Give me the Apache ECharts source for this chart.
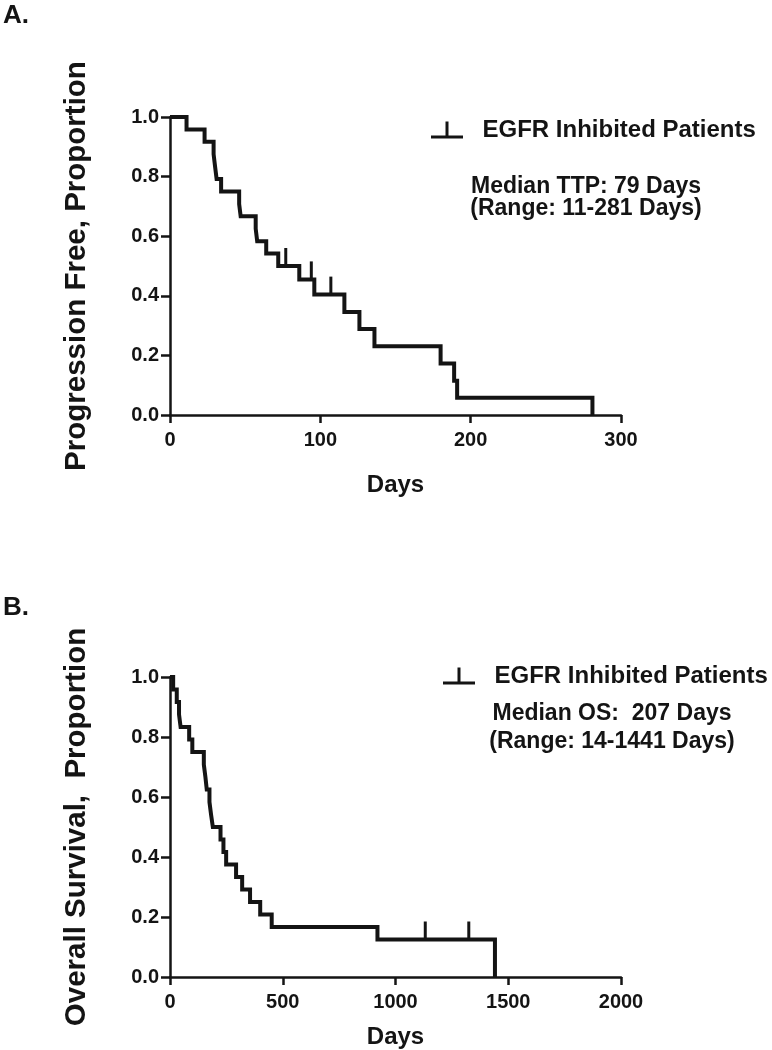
<!DOCTYPE html>
<html>
<head>
<meta charset="utf-8">
<script src="https://cdn.jsdelivr.net/npm/echarts@6/dist/echarts.min.js"></script>
<style>
  html, body { margin: 0; padding: 0; background: #ffffff; }
  #chart { width: 772px; height: 1050px; }
</style>
</head>
<body>
<div id="chart"></div>
<script>
// ---- Panel A: time to progression (Kaplan-Meier step points) ----
const ttpDays = [0, 11, 23, 29, 30, 31, 34, 46, 47, 57, 58, 64, 72, 86, 96, 116, 126, 136, 180, 189, 191, 281];
const ttpProp = [1, 0.958, 0.917, 0.875, 0.833, 0.792, 0.75, 0.708, 0.667, 0.625, 0.583, 0.542, 0.5, 0.455, 0.404, 0.346, 0.289, 0.231, 0.173, 0.115, 0.058, 0];
const ttpCensorDays = [77, 94, 107];
const ttpCensorProp = [0.5, 0.455, 0.404];

// ---- Panel B: overall survival ----
const osDays = [0, 14, 30, 40, 47, 85, 99, 150, 157, 163, 175, 182, 190, 224, 237, 249, 293, 320, 355, 400, 451, 920, 1441];
const osProp = [1, 0.958, 0.917, 0.875, 0.833, 0.792, 0.75, 0.708, 0.667, 0.625, 0.583, 0.542, 0.5, 0.458, 0.417, 0.375, 0.333, 0.292, 0.25, 0.208, 0.167, 0.125, 0];
const osCensorDays = [1132, 1325];
const osCensorProp = [0.125, 0.125];

// ---- Axis ticks / labels ----
const yTicks = { min: 0, max: 1, interval: 0.2 };
const xTicksA = { min: 0, max: 300, interval: 100 };
const xTicksB = { min: 0, max: 2000, interval: 500 };

const seriesName = 'EGFR Inhibited Patients';
const yTitleA = 'Progression Free, Proportion';
const yTitleB = 'Overall Survival,  Proportion';
const xTitle = 'Days';
const panelLabels = ['A.', 'B.'];
const medianTextA = ['Median TTP: 79 Days', '(Range: 11-281 Days)'];
const medianTextB = ['Median OS:  207 Days', '(Range: 14-1441 Days)'];

const FONT = '"Liberation Sans", Arial, Helvetica, sans-serif';
const INK = '#141414';

function zip(a, b) { return a.map((v, i) => [v, b[i]]); }

function xAxisCfg(gridIndex, t, gap) {
  return {
    type: 'value', gridIndex, min: t.min, max: t.max, interval: t.interval,
    name: xTitle, nameLocation: 'middle', nameGap: gap,
    nameTextStyle: { fontFamily: FONT, fontWeight: 'bold', fontSize: 24, color: INK },
    axisLine: { show: true, lineStyle: { color: INK, width: 2.5 } },
    axisTick: { show: true, length: 8, lineStyle: { color: INK, width: 2.5 } },
    axisLabel: { fontFamily: FONT, fontWeight: 'bold', fontSize: 20, color: INK, margin: 15,
                 formatter: v => String(v) },
    splitLine: { show: false }
  };
}
function yAxisCfg(gridIndex, title) {
  return {
    type: 'value', gridIndex, min: yTicks.min, max: yTicks.max, interval: yTicks.interval,
    name: title, nameLocation: 'middle', nameGap: 78,
    nameTextStyle: { fontFamily: FONT, fontWeight: 'bold', fontSize: 29.5, color: INK },
    axisLine: { show: true, lineStyle: { color: INK, width: 2.5 } },
    axisTick: { show: true, length: 9, lineStyle: { color: INK, width: 2.5 } },
    axisLabel: { fontFamily: FONT, fontWeight: 'bold', fontSize: 20, color: INK, margin: 11,
                 formatter: v => v.toFixed(1) },
    splitLine: { show: false }
  };
}
function kmSeries(idx, days, prop) {
  return {
    name: seriesName, type: 'line', step: 'end', xAxisIndex: idx, yAxisIndex: idx,
    data: zip(days, prop), showSymbol: false, symbol: 'none',
    lineStyle: { color: INK, width: 4, join: 'miter', cap: 'butt' },
    itemStyle: { color: INK }, silent: true, animation: false
  };
}
function censorSeries(idx, days, prop) {
  return {
    name: 'censored', type: 'scatter', xAxisIndex: idx, yAxisIndex: idx,
    data: zip(days, prop), symbol: 'rect', symbolSize: [3, 18], symbolOffset: [0, -9],
    itemStyle: { color: INK, opacity: 1 }, silent: true, animation: false
  };
}
function textBlock(lines, cx, y0, step) {
  return lines.map((t, i) => ({
    type: 'text', x: cx, y: y0 + i * step,
    style: { text: t, font: 'bold 23px ' + FONT, fill: INK, textAlign: 'center', textVerticalAlign: 'middle' }
  }));
}
const legendIcon = 'path://M0,14h32v3h-32z M14.5,0h3v14h-3z';
function legendCfg(left, top) {
  return {
    left, top, orient: 'horizontal', data: [seriesName], icon: legendIcon,
    itemWidth: 33, itemHeight: 17, selectedMode: false,
    textStyle: { fontFamily: FONT, fontWeight: 'bold', fontSize: 24, color: INK, padding: [0, 0, 0, 14] }
  };
}

const chart = echarts.init(document.getElementById('chart'), null, { renderer: 'canvas' });
chart.setOption({
  backgroundColor: '#ffffff',
  animation: false,
  grid: [
    { left: 170, top: 117, width: 451, height: 298 },
    { left: 170, top: 677, width: 451, height: 300 }
  ],
  xAxis: [xAxisCfg(0, xTicksA, 58), xAxisCfg(1, xTicksB, 48)],
  yAxis: [yAxisCfg(0, yTitleA), yAxisCfg(1, yTitleB)],
  legend: [legendCfg(426, 113), legendCfg(438, 659)],
  series: [
    kmSeries(0, ttpDays, ttpProp),
    censorSeries(0, ttpCensorDays, ttpCensorProp),
    kmSeries(1, osDays, osProp),
    censorSeries(1, osCensorDays, osCensorProp)
  ],
  graphic: [
    { type: 'text', x: 3, y: 3, style: { text: panelLabels[0], font: 'bold 26px ' + FONT, fill: INK } },
    { type: 'text', x: 3, y: 595, style: { text: panelLabels[1], font: 'bold 26px ' + FONT, fill: INK } },
    ...textBlock(medianTextA, 586, 187, 22),
    ...textBlock(medianTextB, 612, 714, 28)
  ]
});
</script>
</body>
</html>
